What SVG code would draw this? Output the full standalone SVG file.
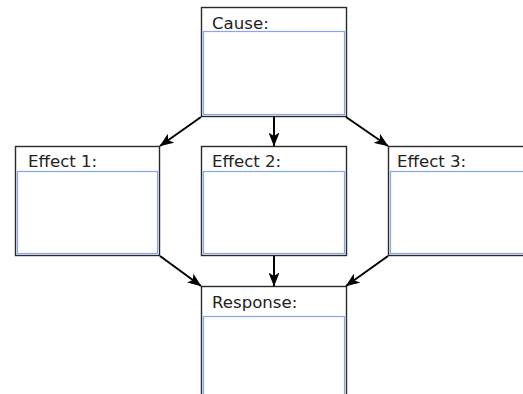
<svg xmlns="http://www.w3.org/2000/svg" width="523" height="394" viewBox="0 0 523 394">
<defs>
<style>
.box{fill:#fff;stroke:#2a2a2a;stroke-width:1.4}
.inner{fill:#fff;stroke:#86a8ea;stroke-width:1.2}
.lbl{font-family:"DejaVu Sans",Verdana,sans-serif;font-size:16.6px;fill:#222}
.conn{stroke:#000;stroke-width:2;fill:none;marker-end:url(#ah)}
</style>
<marker id="ah" viewBox="0 0 14 11" refX="13.5" refY="5.5" markerWidth="14" markerHeight="11" markerUnits="userSpaceOnUse" orient="auto">
<path d="M0,0 L14,5.5 L0,11 L3.5,5.5 Z" fill="#000"/>
</marker>
</defs>
<rect width="523" height="394" fill="#fff"/>
<g id="cause">
<rect class="box" x="201.5" y="7.5" width="145" height="109"/>
<rect class="inner" x="203.5" y="31.5" width="141" height="83"/>
<text class="lbl" x="212" y="29">Cause:</text>
</g>
<g id="effect1">
<rect class="box" x="15.5" y="146.5" width="144" height="109"/>
<rect class="inner" x="17.5" y="171.5" width="140" height="82"/>
<text class="lbl" x="28" y="167">Effect 1:</text>
</g>
<g id="effect2">
<rect class="box" x="201.5" y="146.5" width="145" height="109"/>
<rect class="inner" x="203.5" y="171.5" width="141" height="82"/>
<text class="lbl" x="212" y="167">Effect 2:</text>
</g>
<g id="effect3">
<rect class="box" x="388.5" y="146.5" width="145" height="109"/>
<rect class="inner" x="390.5" y="171.5" width="141" height="82"/>
<text class="lbl" x="397" y="167">Effect 3:</text>
</g>
<g id="response">
<rect class="box" x="201.5" y="286.5" width="145" height="120"/>
<rect class="inner" x="203.5" y="316.5" width="141" height="80"/>
<text class="lbl" x="212" y="308">Response:</text>
</g>
<g id="connectors">
<line class="conn" x1="201" y1="117" x2="160" y2="146"/>
<line class="conn" x1="274" y1="117" x2="274" y2="146"/>
<line class="conn" x1="346" y1="117" x2="388" y2="146"/>
<line class="conn" x1="160" y1="256" x2="201" y2="286"/>
<line class="conn" x1="274" y1="256" x2="274" y2="286"/>
<line class="conn" x1="388" y1="256" x2="346" y2="286"/>
</g>
</svg>
